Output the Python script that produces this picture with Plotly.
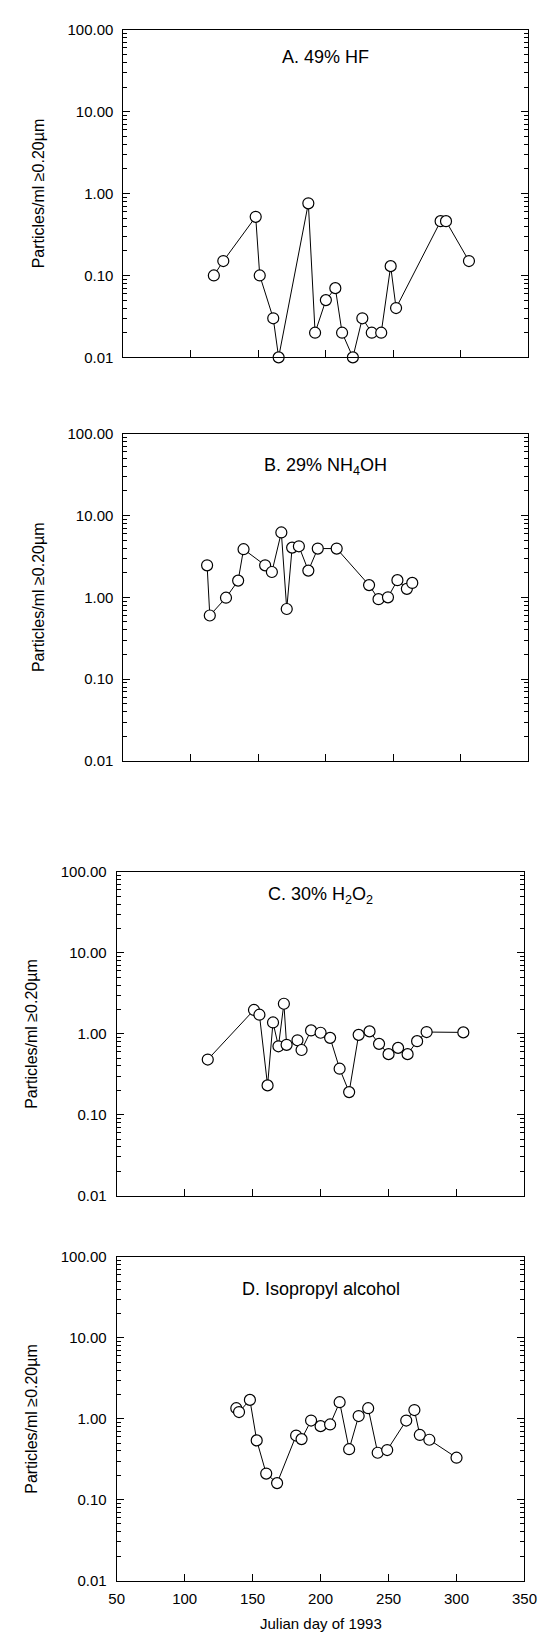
import plotly.graph_objects as go

# ---------------- data ----------------
days_a = [117, 124, 148, 151, 161, 165, 187, 192, 200, 207, 212, 220, 227, 234, 241, 248, 252, 285, 289, 306]
vals_a = [0.10, 0.15, 0.52, 0.10, 0.03, 0.01, 0.76, 0.02, 0.05, 0.07, 0.02, 0.01, 0.03, 0.02, 0.02, 0.13, 0.04, 0.46, 0.46, 0.15]

days_b = [112, 114, 126, 135, 139, 155, 160, 167, 171, 175, 180, 187, 194, 208, 232, 239, 246, 253, 260, 264]
vals_b = [2.46, 0.60, 0.99, 1.60, 3.87, 2.46, 2.04, 6.2, 0.72, 4.05, 4.2, 2.12, 3.94, 3.94, 1.41, 0.95, 1.0, 1.62, 1.27, 1.50]

days_c = [117, 151, 155, 161, 165, 169, 173, 175, 183, 186, 193, 200, 207, 214, 221, 228, 236, 243, 250, 257, 264, 271, 278, 305]
vals_c = [0.48, 1.97, 1.72, 0.23, 1.38, 0.70, 2.35, 0.73, 0.83, 0.63, 1.10, 1.03, 0.89, 0.37, 0.19, 0.97, 1.07, 0.75, 0.56, 0.67, 0.56, 0.81, 1.05, 1.04]

days_d = [138, 140, 148, 153, 160, 168, 182, 186, 193, 200, 207, 214, 221, 228, 235, 242, 249, 263, 269, 273, 280, 300]
vals_d = [1.35, 1.21, 1.71, 0.54, 0.21, 0.16, 0.62, 0.56, 0.95, 0.81, 0.85, 1.60, 0.42, 1.08, 1.35, 0.38, 0.41, 0.95, 1.28, 0.63, 0.55, 0.33]

panel_titles = ["A. 49% HF", "B. 29% NH<sub>4</sub>OH", "C. 30% H<sub>2</sub>O<sub>2</sub>", "D. Isopropyl alcohol"]
y_tickvals = [0.01, 0.1, 1, 10, 100]
y_ticktext = ["0.01", "0.10", "1.00", "10.00", "100.00"]
x_tickvals = [50, 100, 150, 200, 250, 300, 350]
x_ticktext = ["50", "100", "150", "200", "250", "300", "350"]
y_title = "Particles/ml ≥0.20µm"
x_title = "Julian day of 1993"

# ---------------- layout geometry (pixels) ----------------
W, H = 550, 1640
panels_px = [  # left, right, top, bottom
    (120, 541, 21, 352),
    (120, 541, 429, 760),
    (113, 537, 872, 1199),
    (113, 537, 1261, 1588),
]
ytitle_x = [32, 32, 25, 25]
title_dy = [28, 33, 24, 32]

minor_vals = []
for dec in [0.01, 0.1, 1, 10]:
    for k in range(2, 10):
        minor_vals.append(dec * k)

FONT = "Liberation Sans, Arial, sans-serif"
TICK_SIZE = 15
fig = go.Figure()
series = [(days_a, vals_a), (days_b, vals_b), (days_c, vals_c), (days_d, vals_d)]

annotations = []
for i, ((l, r, t, b), (dx, vy)) in enumerate(zip(panels_px, series)):
    n = "" if i == 0 else str(i + 1)
    fig.add_trace(go.Scatter(
        x=dx, y=vy, mode="lines+markers",
        xaxis="x" + n, yaxis="y" + n,
        line=dict(color="black", width=1),
        marker=dict(symbol="circle", size=11, color="white", line=dict(color="black", width=1.2)),
        showlegend=False, hoverinfo="x+y", cliponaxis=False,
    ))
    xd = [l / W, r / W]
    yd = [1 - b / H, 1 - t / H]
    last = (i == 3)
    fig.layout["xaxis" + n] = dict(
        domain=xd, anchor="y" + n, range=[50, 350],
        tickmode="array", tickvals=x_tickvals, ticktext=x_ticktext,
        ticks="inside", ticklen=7, tickwidth=1, tickcolor="black",
        showticklabels=last, showgrid=False, zeroline=False,
        showline=True, linecolor="black", linewidth=1, mirror=True,
        tickfont=dict(family=FONT, size=TICK_SIZE, color="black"),
        ticklabelstandoff=4,
    )
    fig.layout["yaxis" + n] = dict(
        domain=yd, anchor="x" + n, type="log", range=[-2, 2],
        tickmode="array", tickvals=y_tickvals, ticktext=y_ticktext,
        ticks="inside", ticklen=7, tickwidth=1, tickcolor="black",
        minor=dict(tickmode="array", tickvals=minor_vals, ticks="inside", ticklen=4,
                   tickwidth=1, tickcolor="black", showgrid=False),
        showgrid=False, zeroline=False,
        showline=True, linecolor="black", linewidth=1, mirror="ticks",
        tickfont=dict(family=FONT, size=TICK_SIZE, color="black"),
        ticklabelstandoff=6,
    )
    # panel title
    annotations.append(dict(
        text=panel_titles[i], xref="paper", yref="paper",
        x=(l + r) / 2 / W, y=1 - (t + title_dy[i]) / H,
        xanchor="center", yanchor="middle", showarrow=False,
        font=dict(family=FONT, size=18, color="black"),
    ))
    # y axis title
    annotations.append(dict(
        text=y_title, xref="paper", yref="paper",
        x=ytitle_x[i] / W, y=1 - (t + b) / 2 / H,
        xanchor="center", yanchor="middle", textangle=-90, showarrow=False,
        font=dict(family=FONT, size=16, color="black"),
    ))

l, r, t, b = panels_px[3]
annotations.append(dict(
    text=x_title, xref="paper", yref="paper",
    x=(l + r) / 2 / W, y=1 - 1631 / H,
    xanchor="center", yanchor="middle", showarrow=False,
    font=dict(family=FONT, size=15, color="black"),
))

fig.update_layout(
    width=W, height=H,
    margin=dict(l=0, r=0, t=0, b=0),
    paper_bgcolor="white", plot_bgcolor="white",
    annotations=annotations,
    font=dict(family=FONT, size=TICK_SIZE, color="black"),
)

fig.write_html(
    "out.html",
    config={"displayModeBar": False},
    post_script="document.body.style.margin='0';document.body.style.overflow='hidden';",
)
